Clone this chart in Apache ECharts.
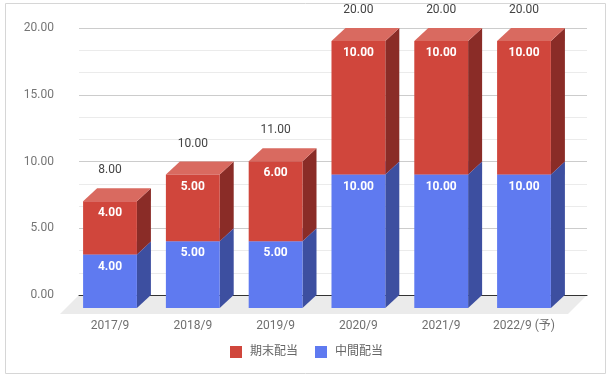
<!DOCTYPE html>
<html>
<head>
<meta charset="utf-8">
<script src="https://cdn.jsdelivr.net/npm/echarts@6/dist/echarts.min.js"></script>
<style>html,body{margin:0;padding:0;background:#fff}#c{width:613px;height:380px}</style>
</head>
<body>
<div id="c"></div>
<script>
var categories = ['2017/9', '2018/9', '2019/9', '2020/9', '2021/9', '2022/9 (予)'];
var interim = [4, 5, 5, 10, 10, 10];      // 中間配当
var yearEnd = [4, 5, 6, 10, 10, 10];      // 期末配当
var yTicks = [0, 5, 10, 15, 20];

var DX = 14, DY = 13, FLOOR = 19;
var FONT = 'Roboto, "Noto Sans CJK JP", sans-serif';

function segRenderer(cols, showTotal) {
  return function (params, api) {
    var x = api.value(0), lo = api.value(1), hi = api.value(2);
    var pLo = api.coord([x, lo]), pHi = api.coord([x, hi]);
    var bw = api.size([1, 0])[0] * 0.65;
    var x0 = pLo[0] - bw / 2, x1 = pLo[0] + bw / 2;
    var yb = pLo[1], yt = pHi[1];
    var ch = [
      {type: 'polygon', shape: {points: [[x1, yt], [x1, yb], [x1 + DX, yb - DY], [x1 + DX, yt - DY]]}, style: {fill: cols.side}},
      {type: 'polygon', shape: {points: [[x0, yt], [x1, yt], [x1 + DX, yt - DY], [x0 + DX, yt - DY]]}, style: {fill: cols.top}},
      {type: 'rect', shape: {x: x0, y: yt, width: bw, height: yb - yt}, style: {fill: cols.front}},
      {type: 'text', style: {text: (hi - lo).toFixed(2), x: pLo[0], y: yt + 12, align: 'center', verticalAlign: 'middle',
        fill: '#ffffff', font: 'bold 12px ' + FONT}}
    ];
    if (showTotal) {
      ch.push({type: 'text', style: {text: hi.toFixed(2), x: pLo[0], y: yt - 31, align: 'center', verticalAlign: 'middle',
        fill: '#444444', font: '12px ' + FONT}});
    }
    return {type: 'group', children: ch};
  };
}

var interimData = categories.map(function (c, i) { return [i, 0, interim[i]]; });
var yearEndData = categories.map(function (c, i) { return [i, interim[i], interim[i] + yearEnd[i]]; });

var chart = echarts.init(document.getElementById('c'));
chart.setOption({
  animation: false,
  textStyle: {fontFamily: FONT},
  graphic: [{type: 'rect', shape: {x: 5.5, y: 3.5, width: 600, height: 370}, style: {fill: 'none', stroke: '#d6d6d6', lineWidth: 1}, silent: true, z: -10}],
  grid: [
    {left: 79, right: 26, top: 28, bottom: 85},
    {left: 68.6, right: 47.6, top: 41, bottom: 72}
  ],
  xAxis: [
    {type: 'category', gridIndex: 0, data: categories, axisLabel: {show: false}, axisTick: {show: false},
     axisLine: {show: true, lineStyle: {color: '#333333', width: 1}}, z: 3},
    {type: 'category', gridIndex: 1, data: categories, axisTick: {show: false}, axisLine: {show: false},
     axisLabel: {color: '#6f6f6f', fontSize: 12, margin: 12, fontFamily: FONT}}
  ],
  yAxis: [
    {type: 'value', gridIndex: 0, min: yTicks[0], max: yTicks[yTicks.length - 1], interval: 5,
     axisLabel: {color: '#757575', fontSize: 12, margin: 25, formatter: function (v) { return v.toFixed(2); }},
     axisLine: {show: false}, axisTick: {show: false},
     splitLine: {lineStyle: {color: '#cccccc'}},
     minorTick: {show: false, splitNumber: 3},
     minorSplitLine: {show: true, lineStyle: {color: '#ebebeb'}}},
    {type: 'value', gridIndex: 1, min: 0, max: 20, show: false, splitLine: {show: false}}
  ],
  legend: {
    top: 341, left: 'center', itemWidth: 12, itemHeight: 12, itemGap: 17, icon: 'rect',
    data: ['期末配当', '中間配当'],
    textStyle: {color: '#666666', fontSize: 12, padding: [0, 0, 0, 3]}
  },
  series: [
    {type: 'custom', xAxisIndex: 0, yAxisIndex: 0, data: [0], silent: true, z: 1,
     renderItem: function (params, api) {
       var cs = params.coordSys;
       var yb = cs.y + cs.height;
       return {type: 'polygon', shape: {points: [[cs.x, yb], [cs.x + cs.width, yb], [cs.x + cs.width - FLOOR, yb + FLOOR], [cs.x - FLOOR, yb + FLOOR]]},
               style: {fill: '#ebebeb'}};
     }},
    {name: '中間配当', type: 'custom', xAxisIndex: 1, yAxisIndex: 1, z: 5,
     itemStyle: {color: '#5f7af0'}, encode: {x: 0, y: [1, 2]}, data: interimData,
     renderItem: segRenderer({front: '#5f7af0', side: '#3d4fa0', top: '#8093f3'}, false)},
    {name: '期末配当', type: 'custom', xAxisIndex: 1, yAxisIndex: 1, z: 6,
     itemStyle: {color: '#d0463c'}, encode: {x: 0, y: [1, 2]}, data: yearEndData,
     renderItem: segRenderer({front: '#d0463c', side: '#8a2c27', top: '#d96a60'}, true)}
  ]
});
</script>
</body>
</html>
